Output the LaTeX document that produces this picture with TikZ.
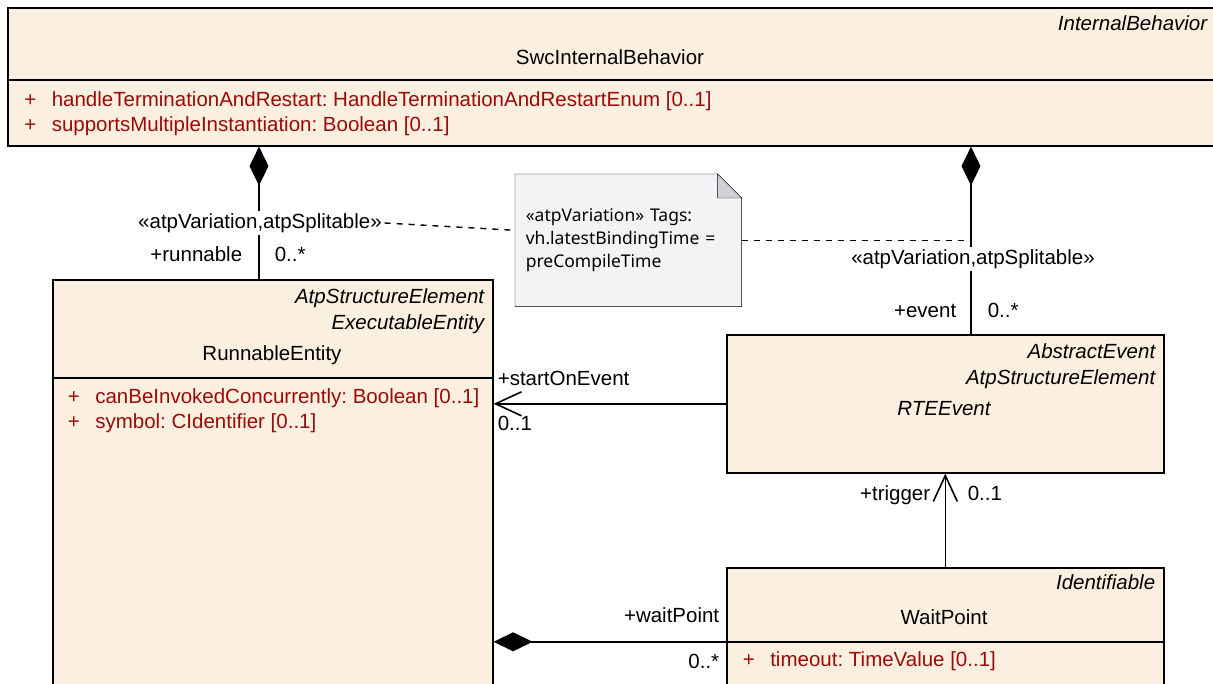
\documentclass[tikz,border=0pt]{standalone}
\usepackage{fontspec}
\setmainfont{Liberation Sans}
\newfontfamily\notefont{Noto Sans}
\usetikzlibrary{arrows.meta,calc,backgrounds}
\definecolor{umlfill}{RGB}{251,240,224}
\definecolor{attrred}{RGB}{155,10,10}
\definecolor{notefill}{RGB}{245,242,246}
\definecolor{foldgrey}{RGB}{210,208,214}
\newcommand{\plusmark}{\makebox[27.5pt][l]{+}}
\frenchspacing
\begin{document}
\begin{tikzpicture}
		[x=1pt,y=-1pt,line width=1.6pt,
		every node/.style={inner sep=0pt,font=\fontsize{20.5}{25}\selectfont},
		classbox/.style={draw,fill=umlfill,anchor=north west},
		attr/.style={anchor=mid west,text=attrred},
		stereo/.style={anchor=mid east,font=\fontsize{20.5}{25}\selectfont\itshape},
		tagged/.style={fill=white,inner sep=2pt},
		note/.style={anchor=north west,minimum width=225pt,minimum height=131pt,
			text width=205pt,align=left,font=\notefont\fontsize{17.5}{23}\selectfont},
		comp/.style={{Diamond[length=39pt,width=19pt]}-},
		nav/.style={-{Straight Barb[length=26pt,width=24pt]}},
		noteline/.style={line width=1.4pt,dash pattern=on 6pt off 6pt}]
		\useasboundingbox (0,0) rectangle (1213,684);
		\clip (0,0) rectangle (1213,684);
		\node[classbox,minimum width=1207pt,minimum height=138pt] (swc) at (7,7) {};
		\node[classbox,minimum width=440pt,minimum height=450pt] (runnable) at (52,279) {};
		\node[classbox,minimum width=437pt,minimum height=138pt] (rte) at (726,334) {};
		\node[classbox,minimum width=437pt,minimum height=148pt] (wait) at (726,567) {};
		\draw ($(swc.north west)+(0,73)$) -- ($(swc.north east)+(0,73)$);
		\draw ($(runnable.north west)+(0,99)$) -- ($(runnable.north east)+(0,99)$);
		\draw (wait.west) -- (wait.east);
		\node[stereo] (swcStereo) at (1208,28) {InternalBehavior};
		\node (swcName) at (610,57) {SwcInternalBehavior};
		\node[attr] (swcAttrA) at (23.5,104) {\plusmark handleTerminationAndRestart: HandleTerminationAndRestartEnum [0..1]};
		\node[attr] (swcAttrB) at (23.5,129) {\plusmark supportsMultipleInstantiation: Boolean [0..1]};
		\node[stereo] (runStereoA) at (485,301) {AtpStructureElement};
		\node[stereo] (runStereoB) at (485,327) {ExecutableEntity};
		\node (runName) at (272,355) {RunnableEntity};
		\node[attr] (runAttrA) at (67,401) {\plusmark canBeInvokedConcurrently: Boolean [0..1]};
		\node[attr] (runAttrB) at (67,426) {\plusmark symbol: CIdentifier [0..1]};
		\node[stereo] (rteStereoA) at (1156,356) {AbstractEvent};
		\node[stereo] (rteStereoB) at (1156,382) {AtpStructureElement};
		\node[font=\fontsize{20.5}{25}\selectfont\itshape] (rteName) at (944,409) {RTEEvent};
		\node[stereo] (waitStereo) at (1156,587) {Identifiable};
		\node (waitName) at (944,617) {WaitPoint};
		\node[attr] (waitAttr) at (742,664) {\plusmark timeout: TimeValue [0..1]};
		\node[note] (note) at (515,174) {«atpVariation» Tags:\\vh.latestBindingTime =\\preCompileTime};
		\begin{scope}[on background layer]
			\filldraw[fill=notefill] (note.north west) -- ($(note.north east)+(-24,0)$)
				-- ($(note.north east)+(0,24)$) -- (note.south east) -- (note.south west) -- cycle;
			\filldraw[fill=foldgrey] ($(note.north east)+(-24,0)$) -- ($(note.north east)+(-24,24)$)
				-- ($(note.north east)+(0,24)$) -- cycle;
		\end{scope}
		\coordinate (runTop) at ($(runnable.north west)+(207,0)$);
		\coordinate (evTop) at ($(rte.north west)+(245,0)$);
		\draw[comp] (runTop |- swc.south) -- (runTop);
		\draw[comp] (evTop |- swc.south) -- (evTop);
		\draw[nav] (rte.west) -- (rte.west -| runnable.east);
		\draw[nav] (wait.north) -- (rte.south);
		\draw[comp] (wait.west -| runnable.east) -- (wait.west);
		\node[tagged] (runTag) at (260,223) {«atpVariation,atpSplitable»};
		\node[tagged] (evTag) at (973,259) {«atpVariation,atpSplitable»};
		\draw[noteline] (runTag.east) -- ($(note.west)+(0,-10)$);
		\draw[noteline] (note.east) -- (note.east -| evTop);
		\node[anchor=mid east] (runRole) at (243,259) {+runnable};
		\node[anchor=mid west] (runMult) at (274,259) {0..*};
		\node[anchor=mid east] (evRole) at (957,315) {+event};
		\node[anchor=mid west] (evMult) at (987,315) {0..*};
		\node[anchor=mid west] (startRole) at (497,383) {+startOnEvent};
		\node[anchor=mid west] (startMult) at (497,428) {0..1};
		\node[anchor=mid east] (trigRole) at (931,498) {+trigger};
		\node[anchor=mid west] (trigMult) at (967,498) {0..1};
		\node[anchor=mid east] (waitRole) at (720,620) {+waitPoint};
		\node[anchor=mid east] (waitMult) at (720,666) {0..*};
\end{tikzpicture}
\end{document}
